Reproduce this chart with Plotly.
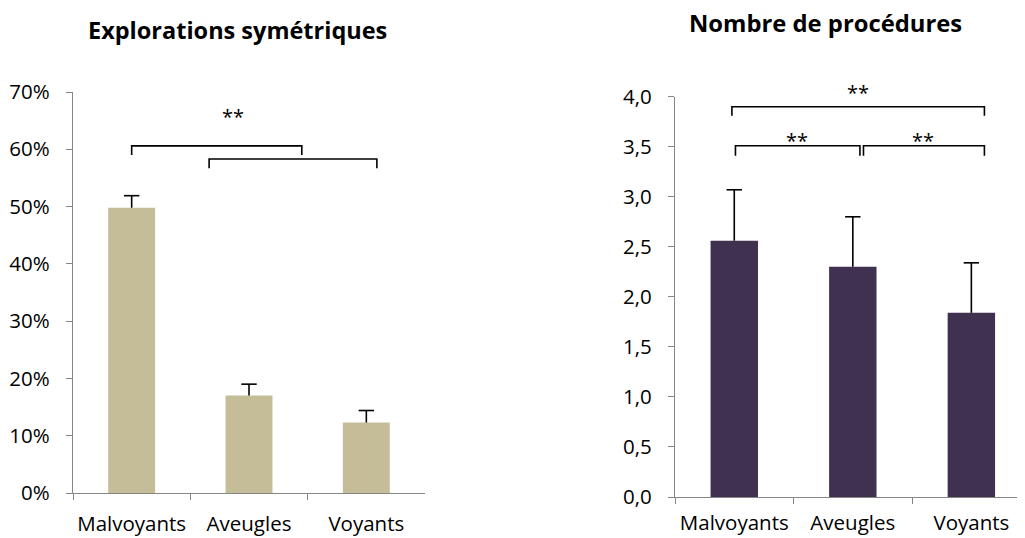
import plotly.graph_objects as go

categories = ["Malvoyants", "Aveugles", "Voyants"]

# Left chart: symmetric explorations (fraction)
sym_values = [0.498, 0.170, 0.123]
sym_errors = [0.021, 0.020, 0.021]
sym_ticks = [0, 0.1, 0.2, 0.3, 0.4, 0.5, 0.6, 0.7]

# Right chart: number of procedures
proc_values = [2.56, 2.30, 1.84]
proc_errors = [0.51, 0.50, 0.50]
proc_ticks = [0, 0.5, 1.0, 1.5, 2.0, 2.5, 3.0, 3.5, 4.0]

FONT = "Open Sans"
AXIS_COLOR = "#868686"
W, H = 1025, 538
OFF = 8  # page body margin offset of the plot inside the window

fig = go.Figure()


def add_bars_with_up_errors(values, errors, color, xa, ya):
    fig.add_trace(go.Bar(
        x=categories, y=values, xaxis=xa, yaxis=ya,
        marker=dict(color=color, line=dict(width=0)),
        showlegend=False, hoverinfo="skip",
    ))
    # upward-only error bars: stem + top cap
    ex, ey = [], []
    for c, v, e in zip(categories, values, errors):
        ex += [c, c, None]
        ey += [v, v + e, None]
    fig.add_trace(go.Scatter(
        x=ex, y=ey, xaxis=xa, yaxis=ya, mode="lines",
        line=dict(color="black", width=1.6), showlegend=False, hoverinfo="skip",
    ))
    fig.add_trace(go.Scatter(
        x=categories, y=[v + e for v, e in zip(values, errors)], xaxis=xa, yaxis=ya,
        mode="markers",
        marker=dict(symbol="line-ew", size=11, line=dict(color="black", width=1.6)),
        showlegend=False, hoverinfo="skip", cliponaxis=False,
    ))


add_bars_with_up_errors(sym_values, sym_errors, "#C4BD97", "x", "y")
add_bars_with_up_errors(proc_values, proc_errors, "#403151", "x2", "y2")


def px_x(p):
    return (p - OFF) / W


def px_y(p):
    return (H - (p - OFF)) / H


axis_common = dict(
    showgrid=False, zeroline=False, showline=True, linecolor=AXIS_COLOR, linewidth=1.3,
    ticks="outside", tickcolor=AXIS_COLOR, ticklen=6, tickwidth=1.3,
    tickfont=dict(family=FONT, size=20.5, color="black"),
)

fig.update_layout(
    width=W, height=H, margin=dict(l=0, r=0, t=0, b=0, autoexpand=False),
    paper_bgcolor="white", plot_bgcolor="white",
    separators=", ",
    bargap=0.6,
    xaxis=dict(domain=[px_x(73), px_x(425)], type="category", range=[-0.5, 2.5],
               tickson="boundaries", anchor="y", automargin=False, tickangle=0,
               ticklabelstandoff=12, **axis_common),
    yaxis=dict(domain=[px_y(493), px_y(92)], range=[0, 0.70], tickvals=sym_ticks,
               tickformat=".0%", anchor="x", ticklabelstandoff=12, automargin=False,
               **axis_common),
    xaxis2=dict(domain=[px_x(675), 1.0], type="category", range=[-0.5, 2.52],
                tickson="boundaries", anchor="y2", automargin=False, tickangle=0,
                ticklabelstandoff=7, **axis_common),
    yaxis2=dict(domain=[px_y(497), px_y(96.7)], range=[0, 4.0], tickvals=proc_ticks,
                tickformat=".1f", anchor="x2", ticklabelstandoff=12, automargin=False,
                **axis_common),
)

# Titles
fig.add_annotation(text="<b>Explorations symétriques</b>", x=px_x(237), y=px_y(30),
                   xref="paper", yref="paper", xanchor="center", yanchor="middle",
                   showarrow=False, font=dict(family=FONT, size=23.5, color="black"))
fig.add_annotation(text="<b>Nombre de procédures</b>", x=px_x(825), y=px_y(23),
                   xref="paper", yref="paper", xanchor="center", yanchor="middle",
                   showarrow=False, font=dict(family=FONT, size=23.8, color="black"))

# Significance brackets: (xref, yref, x_start, x_end, y_top, y_low)
brackets = [
    ("x", "y", 0.0, 1.45, 0.606, 0.590),
    ("x", "y", 0.66, 2.09, 0.583, 0.567),
    ("x2", "y2", -0.02, 2.11, 3.90, 3.81),
    ("x2", "y2", 0.01, 1.06, 3.51, 3.41),
    ("x2", "y2", 1.09, 2.11, 3.51, 3.41),
]
# stars: (xref, yref, x, y) with y expressed as a fraction of the axis domain
stars = [
    ("x", "y domain", 0.86, 0.658 / 0.70),
    ("x2", "y2 domain", 1.04, 4.04 / 4.0),
    ("x2", "y2 domain", 0.53, 3.56 / 4.0),
    ("x2", "y2 domain", 1.59, 3.56 / 4.0),
]
for xr, yr, xs, xe, yt, yl in brackets:
    fig.add_shape(type="path", xref=xr, yref=yr,
                  path=f"M {xs},{yl} L {xs},{yt} L {xe},{yt} L {xe},{yl}",
                  line=dict(color="black", width=1.6))
for xr, yr, xs, ys in stars:
    fig.add_annotation(text="**", x=xs, y=ys, xref=xr, yref=yr, showarrow=False,
                       xanchor="center", yanchor="middle",
                       font=dict(family=FONT, size=20, color="black"))

fig.write_html("out.html")
